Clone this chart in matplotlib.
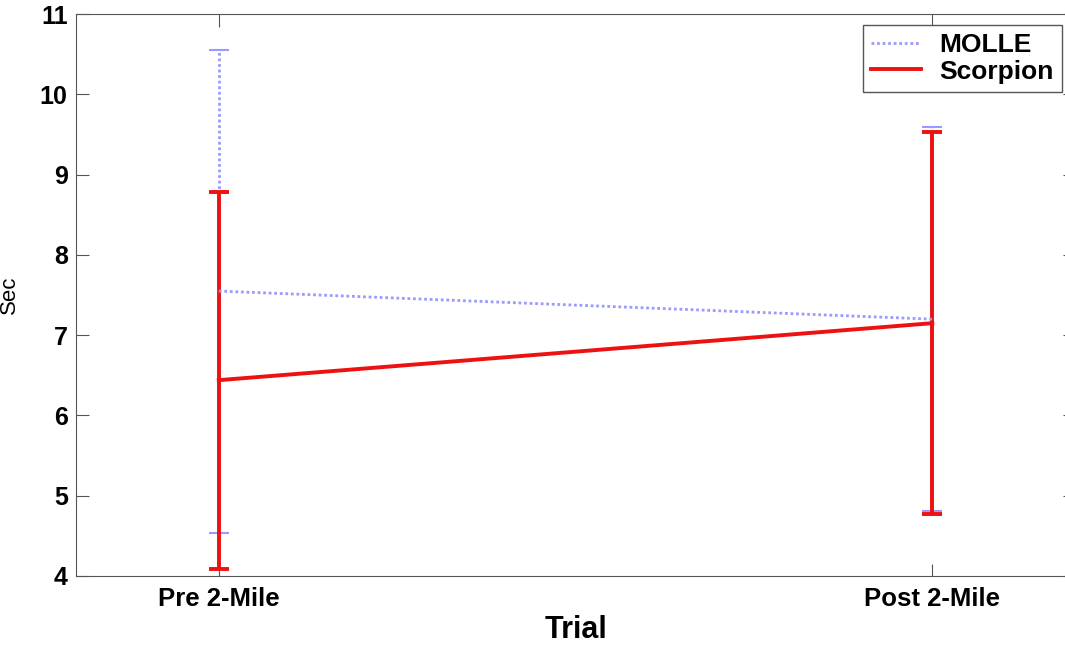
import numpy as np
import matplotlib.pyplot as plt
from matplotlib.lines import Line2D

plt.rcParams['font.family'] = ['Liberation Sans', 'DejaVu Sans']

trials = ['Pre 2-Mile', 'Post 2-Mile']
x = np.array([1, 2])

molle_mean = [7.55, 7.20]
molle_err = [3.01, 2.39]
scorpion_mean = [6.44, 7.15]
scorpion_err = [2.35, 2.38]

blue = '#9a9aff'
red = '#ee1111'

fig = plt.figure(figsize=(10.65, 6.45), dpi=100)
ax = fig.add_axes([0.0714, 0.107, 0.938, 0.871])

eb1 = ax.errorbar(x, molle_mean, yerr=molle_err, color=blue, linestyle=(0, (1, 1)),
                  linewidth=2, capsize=7, capthick=1.5)
eb1[2][0].set_linestyle((0, (1, 1)))
eb2 = ax.errorbar(x, scorpion_mean, yerr=scorpion_err, color=red, linestyle='-',
                  linewidth=2.8, capsize=7, capthick=2.8)

ax.set_xlim(0.8, 2.2)
ax.set_ylim(4, 11)
ax.set_xticks(x)
ax.set_xticklabels(trials, fontsize=18.5, fontweight='bold')
ax.set_yticks(range(4, 12))
ax.set_yticklabels([str(v) for v in range(4, 12)], fontsize=18, fontweight='bold')
ax.tick_params(direction='in', top=True, right=True, length=9, color='#555555', pad=6)
ax.tick_params(axis='x', pad=8)
for s in ax.spines.values():
    s.set_color('#555555')

ax.set_xlabel('Trial', fontsize=22, fontweight='bold', labelpad=3)
ax.set_ylabel('Sec', fontsize=16, labelpad=14)

handles = [Line2D([], [], color=blue, linestyle=(0, (1, 1)), linewidth=2),
           Line2D([], [], color=red, linewidth=2.8)]
ax.legend(handles, ['MOLLE', 'Scorpion'], loc='upper right', bbox_to_anchor=(0.997, 0.961),
          bbox_transform=fig.transFigure, prop={'size': 19, 'weight': 'bold'},
          fancybox=False, edgecolor='#555555', framealpha=1, borderaxespad=0,
          handlelength=1.9, borderpad=0.3, labelspacing=0.1, handletextpad=0.7)

fig.savefig('out.png', dpi=100)
